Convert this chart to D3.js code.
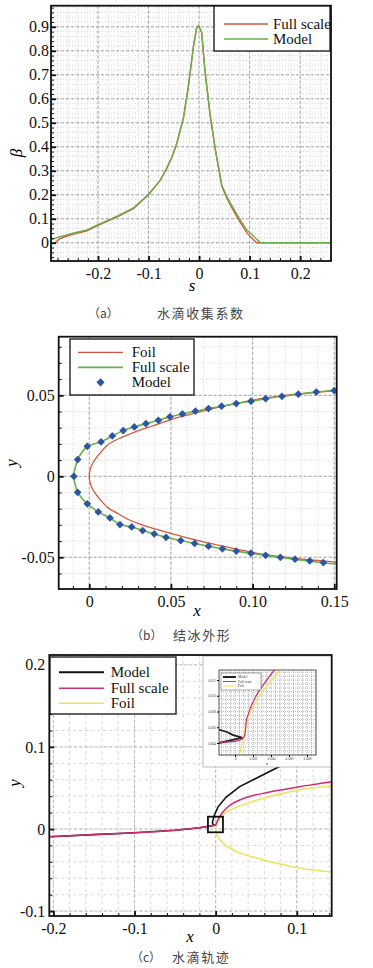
<!DOCTYPE html>
<html>
<head>
<meta charset="utf-8">
<script src="https://cdn.jsdelivr.net/npm/d3@7"></script>
<style>
    body { margin: 0; background: #fff; }
</style>
</head>
<body>
<div id="chart"></div>
<script>
// ---- (a) droplet collection efficiency ----
const sFull = [-0.285, -0.276, -0.265, -0.25, -0.222, -0.2, -0.16, -0.13, -0.1, -0.077, -0.064, -0.054, -0.044, -0.031, -0.021, -0.011, -0.005, -0.001, 0.005, 0.012, 0.022, 0.032, 0.045, 0.055, 0.065, 0.08, 0.095, 0.105, 0.114, 0.261];
const betaFull = [0, 0.016, 0.026, 0.035, 0.05, 0.072, 0.11, 0.142, 0.2, 0.26, 0.31, 0.355, 0.415, 0.52, 0.655, 0.82, 0.895, 0.905, 0.878, 0.71, 0.53, 0.39, 0.235, 0.186, 0.145, 0.09, 0.04, 0.018, 0, 0];
const sModel = [-0.293, -0.276, -0.265, -0.25, -0.222, -0.2, -0.16, -0.13, -0.1, -0.077, -0.064, -0.054, -0.044, -0.031, -0.021, -0.011, -0.005, -0.001, 0.005, 0.012, 0.022, 0.032, 0.045, 0.055, 0.065, 0.08, 0.095, 0.105, 0.115, 0.122, 0.261];
const betaModel = [0.012, 0.025, 0.031, 0.04, 0.054, 0.076, 0.113, 0.145, 0.202, 0.26, 0.31, 0.355, 0.415, 0.52, 0.655, 0.82, 0.895, 0.905, 0.878, 0.71, 0.53, 0.39, 0.24, 0.192, 0.155, 0.1, 0.052, 0.033, 0.013, 0, 0];
const aTicksX = [-0.2, -0.1, 0, 0.1, 0.2];
const aLabelsX = ["-0.2", "-0.1", "0", "0.1", "0.2"];
const aTicksY = [0, 0.1, 0.2, 0.3, 0.4, 0.5, 0.6, 0.7, 0.8, 0.9];
const aLabelsY = ["0", "0.1", "0.2", "0.3", "0.4", "0.5", "0.6", "0.7", "0.8", "0.9"];

// ---- (b) ice shape ----
const foilX = [0, 0.0005, 0.0015, 0.0035, 0.007, 0.0116, 0.018, 0.0239, 0.031, 0.0382, 0.05, 0.06, 0.07, 0.08, 0.09, 0.10, 0.11, 0.12, 0.13, 0.14, 0.15, 0.16];
const foilUpper = [0, 0.004, 0.0068, 0.0103, 0.0148, 0.0196, 0.0232, 0.0257, 0.0285, 0.0309, 0.035, 0.0378, 0.0404, 0.0428, 0.045, 0.047, 0.0487, 0.05, 0.0511, 0.052, 0.0528, 0.0536];
const foilLower = [0, -0.004, -0.0068, -0.0103, -0.0148, -0.0195, -0.0233, -0.0267, -0.0295, -0.0319, -0.0352, -0.038, -0.0405, -0.0428, -0.045, -0.047, -0.0487, -0.05, -0.0511, -0.052, -0.0528, -0.0536];
const iceX = [0.152, 0.144, 0.135, 0.126, 0.117, 0.108, 0.099, 0.09, 0.0815, 0.073, 0.0645, 0.056, 0.047, 0.0398, 0.0327, 0.026, 0.0188, 0.0127, 0.0055, -0.0012, -0.0045, -0.0071, -0.0085, -0.0095, -0.0085, -0.0071, -0.0045, -0.0012, 0.0072, 0.0141, 0.0208, 0.0276, 0.0347, 0.0423, 0.0494, 0.057, 0.065, 0.073, 0.081, 0.09, 0.099, 0.108, 0.118, 0.128, 0.139, 0.152];
const iceY = [-0.0542, -0.0535, -0.0524, -0.0513, -0.0501, -0.0489, -0.0476, -0.0462, -0.0448, -0.0432, -0.0415, -0.0397, -0.0377, -0.0356, -0.0335, -0.0313, -0.0298, -0.0257, -0.022, -0.017, -0.0135, -0.0099, -0.0055, 0, 0.0055, 0.0103, 0.0148, 0.0185, 0.0212, 0.0249, 0.0282, 0.0305, 0.0325, 0.0346, 0.0367, 0.0385, 0.0402, 0.0418, 0.0433, 0.0449, 0.0464, 0.0479, 0.0494, 0.0507, 0.052, 0.0532];
const modelX = [0.1433, 0.135, 0.126, 0.117, 0.108, 0.099, 0.09, 0.0815, 0.073, 0.0645, 0.056, 0.047, 0.0398, 0.0327, 0.026, 0.0188, 0.0127, 0.0055, -0.0012, -0.0071, -0.0094, -0.0071, -0.0012, 0.0072, 0.0141, 0.0208, 0.0276, 0.0347, 0.0423, 0.0494, 0.057, 0.065, 0.073, 0.081, 0.09, 0.099, 0.108, 0.118, 0.128, 0.139, 0.150];
const modelY = [-0.0533, -0.0522, -0.0512, -0.05, -0.0488, -0.0475, -0.0462, -0.0448, -0.0432, -0.0415, -0.0397, -0.0377, -0.0356, -0.0335, -0.0313, -0.0298, -0.0257, -0.022, -0.017, -0.0099, 0, 0.0103, 0.0185, 0.0212, 0.0249, 0.0282, 0.0305, 0.0325, 0.0346, 0.0367, 0.0385, 0.0402, 0.0418, 0.0433, 0.0449, 0.0464, 0.0479, 0.0494, 0.0507, 0.052, 0.0529];
const bTicksX = [0, 0.05, 0.10, 0.15];
const bLabelsX = ["0", "0.05", "0.10", "0.15"];
const bTicksY = [-0.05, 0, 0.05];
const bLabelsY = ["-0.05", "0", "0.05"];

// ---- (c) droplet trajectories ----
const trajModelX = [-0.205, -0.15, -0.1, -0.05, -0.02, -0.006, -0.0015, -0.0035, -0.004, -0.0033, -0.0015, 0.003, 0.013, 0.0296, 0.05, 0.0768, 0.1];
const trajModelY = [-0.0094, -0.0068, -0.0046, -0.0015, 0.0015, 0.0038, 0.0046, 0.0062, 0.008, 0.0105, 0.017, 0.027, 0.039, 0.0516, 0.0618, 0.0752, 0.086];
const trajFullX = [-0.205, -0.15, -0.1, -0.05, -0.02, -0.005, 0, 0.002, 0.004, 0.008, 0.013, 0.02, 0.0296, 0.045, 0.0625, 0.08, 0.1036, 0.125, 0.143];
const trajFullY = [-0.0094, -0.0068, -0.0046, -0.0015, 0.0015, 0.004, 0.005, 0.0095, 0.0135, 0.0195, 0.025, 0.0305, 0.0354, 0.0405, 0.0443, 0.0475, 0.0516, 0.0548, 0.0577];
const zoomBox = [-0.0095, 0.009, -0.004, 0.015];   // x0, x1, y0, y1
const cTicksX = [-0.2, -0.1, 0, 0.1];
const cLabelsX = ["-0.2", "-0.1", "0", "0.1"];
const cTicksY = [-0.1, 0, 0.1, 0.2];
const cLabelsY = ["-0.1", "0", "0.1", "0.2"];

// inset (zoom near leading edge)
const insetModelX = [-0.0018, 0.0008, -0.0002, -0.0009, -0.0018];
const insetModelY = [0.0040, 0.0047, 0.0050, 0.0054, 0.0057];
const insetFullX = [-0.0018, 0.0009, 0.0013, 0.0024, 0.0044];
const insetFullY = [0.0041, 0.0046, 0.0071, 0.0101, 0.0133];
const insetFoilX = [0.0005, 0.0015, 0.0028, 0.0051];
const insetFoilY = [0.0025, 0.0073, 0.0101, 0.0133];
const insetTicksX = [0, 0.002, 0.004, 0.006, 0.008];
const insetLabelsX = ["0", "0.002", "0.004", "0.006", "0.008"];
const insetTicksY = [0.004, 0.006, 0.008, 0.010, 0.012];
const insetLabelsY = ["0.004", "0.006", "0.008", "0.010", "0.012"];

const RED = "#d4573b", GREEN = "#67b04a", BLUE = "#2c56a3";
const PINK = "#d42a72", YELLOW = "#ece35f";
const SERIF = "'Liberation Serif', 'Times New Roman', serif";
const CJK = "'Noto Sans CJK SC', sans-serif";

const svg = d3.select("#chart").append("svg")
    .attr("width", 373).attr("height", 968)
    .style("background", "#fff");

function zip(xs, ys) { return xs.map((v, i) => [v, ys[i]]); }
function steps(a, b, st) {
    const n = Math.round((b - a) / st);
    return d3.range(n + 1).map(i => +(a + i * st).toFixed(6));
}
function serif(sel, size) {
    return sel.style("font-family", SERIF).style("font-size", size + "px");
}

// builds frame, grid and axes for a panel
function panel(id, o) {
    const g = svg.append("g");
    const x = d3.scaleLinear().domain(o.xDomain).range(o.xRange);
    const y = d3.scaleLinear().domain(o.yDomain).range(o.yRange);
    const L = o.xRange[0], R = o.xRange[1], B = o.yRange[0], T = o.yRange[1];

    g.append("clipPath").attr("id", id).append("rect")
        .attr("x", L).attr("y", T).attr("width", R - L).attr("height", B - T);

    const inX = v => v > o.xDomain[0] + 1e-9 && v < o.xDomain[1] - 1e-9;
    const inY = v => v > o.yDomain[0] + 1e-9 && v < o.yDomain[1] - 1e-9;
    const minorX = steps(o.minorX[0], o.minorX[1], o.minorX[2]).filter(inX);
    const minorY = steps(o.minorY[0], o.minorY[1], o.minorY[2]).filter(inY);

    // grid
    const grid = g.append("g");
    grid.selectAll(".gx").data(minorX).enter().append("line")
        .attr("x1", d => x(d)).attr("x2", d => x(d)).attr("y1", T).attr("y2", B)
        .attr("stroke", o.gridColor).attr("stroke-width", 0.8).attr("stroke-dasharray", o.minorDash);
    grid.selectAll(".gy").data(minorY).enter().append("line")
        .attr("x1", L).attr("x2", R).attr("y1", d => y(d)).attr("y2", d => y(d))
        .attr("stroke", o.gridColor).attr("stroke-width", 0.8).attr("stroke-dasharray", o.minorDash);
    grid.selectAll(".mx").data(o.ticksX.filter(inX)).enter().append("line")
        .attr("x1", d => x(d)).attr("x2", d => x(d)).attr("y1", T).attr("y2", B)
        .attr("stroke", o.majorColor).attr("stroke-width", 0.9).attr("stroke-dasharray", "3,2");
    grid.selectAll(".my").data(o.ticksY.filter(inY)).enter().append("line")
        .attr("x1", L).attr("x2", R).attr("y1", d => y(d)).attr("y2", d => y(d))
        .attr("stroke", o.majorColor).attr("stroke-width", 0.9).attr("stroke-dasharray", "3,2");

    const plot = g.append("g").attr("clip-path", `url(#${id})`);

    function axes() {
        g.append("rect").attr("x", L).attr("y", T).attr("width", R - L).attr("height", B - T)
            .attr("fill", "none").attr("stroke", "#111").attr("stroke-width", 1.8);

        const ax = g.append("g").attr("transform", `translate(0,${B})`)
            .call(d3.axisBottom(x).tickValues(minorX).tickSize(-3).tickFormat(""));
        const ay = g.append("g").attr("transform", `translate(${L},0)`)
            .call(d3.axisLeft(y).tickValues(minorY).tickSize(-3).tickFormat(""));
        const bx = g.append("g").attr("transform", `translate(0,${B})`)
            .call(d3.axisBottom(x).tickValues(o.ticksX).tickSize(-5).tickPadding(o.padX)
                .tickFormat((d, i) => o.labelsX[i]));
        const by = g.append("g").attr("transform", `translate(${L},0)`)
            .call(d3.axisLeft(y).tickValues(o.ticksY).tickSize(-5).tickPadding(o.padY)
                .tickFormat((d, i) => o.labelsY[i]));
        [ax, ay, bx, by].forEach(a => {
            a.select(".domain").remove();
            a.selectAll("line").attr("stroke", "#111");
        });
        [ax, ay].forEach(a => a.selectAll("line").attr("stroke-width", 1));
        [bx, by].forEach(a => a.selectAll("line").attr("stroke-width", 1.8));
        [bx, by].forEach(a => serif(a.selectAll("text"), o.tickFont).attr("fill", "#111"));

        serif(g.append("text"), 17).attr("x", o.xTitle[0]).attr("y", o.xTitle[1])
            .attr("text-anchor", "middle").style("font-style", "italic").text(o.xName);
        serif(g.append("text"), 17)
            .attr("transform", `translate(${o.yTitle[0]},${o.yTitle[1]}) rotate(-90)`)
            .attr("text-anchor", "middle").style("font-style", "italic").text(o.yName);
    }
    return { g, x, y, plot, axes };
}

function legend(g, box, items) {
    g.append("rect").attr("x", box[0]).attr("y", box[1]).attr("width", box[2] - box[0]).attr("height", box[3] - box[1])
        .attr("fill", "#fff").attr("stroke", "#111").attr("stroke-width", 1.3);
    items.forEach(it => {
        if (it.diamond) {
            g.append("path").attr("d", d3.symbol(d3.symbolSquare, 34)())
                .attr("transform", `translate(${(it.x0 + it.x1) / 2},${it.y}) rotate(45)`).attr("fill", BLUE);
        } else {
            g.append("line").attr("x1", it.x0).attr("x2", it.x1).attr("y1", it.y).attr("y2", it.y)
                .attr("stroke", it.color).attr("stroke-width", it.w);
        }
        serif(g.append("text"), 15).attr("x", it.tx).attr("y", it.y + 5)
            .attr("fill", "#111").text(it.label);
    });
}

function caption(tag, text, x1, x2, yb) {
    svg.append("text").attr("x", x1).attr("y", yb).attr("fill", "#444")
        .style("font-family", CJK).style("font-size", "12px").text(tag);
    svg.append("text").attr("x", x2).attr("y", yb).attr("fill", "#444")
        .style("font-family", CJK).style("font-size", "13px").style("letter-spacing", "1.6px").text(text);
}

// ================= (a) =================
{
    const p = panel("clipA", {
        xDomain: [-0.293, 0.261], xRange: [51, 331],
        yDomain: [-0.076, 0.988], yRange: [261, 5.7],
        ticksX: aTicksX, labelsX: aLabelsX, ticksY: aTicksY, labelsY: aLabelsY,
        minorX: [-0.28, 0.26, 0.02], minorY: [-0.06, 0.98, 0.02],
        gridColor: "#c6c6c6", majorColor: "#9c9c9c", minorDash: "1,2",
        padX: 7, padY: 2, tickFont: 16,
        xTitle: [192, 291], yTitle: [22, 153], xName: "s", yName: "β"
    });
    const line = d3.line().x(d => p.x(d[0])).y(d => p.y(d[1]));
    p.plot.append("path").datum(zip(sFull, betaFull)).attr("d", line)
        .attr("fill", "none").attr("stroke", RED).attr("stroke-width", 1.4);
    p.plot.append("path").datum(zip(sModel, betaModel)).attr("d", line)
        .attr("fill", "none").attr("stroke", GREEN).attr("stroke-width", 1.4);
    p.axes();
    legend(p.g, [214, 6, 330, 51], [
        { label: "Full scale", color: RED, w: 1.4, x0: 224, x1: 268, y: 24, tx: 273 },
        { label: "Model", color: GREEN, w: 1.4, x0: 224, x1: 268, y: 39, tx: 273 }
    ]);
    caption("（a）", "水滴收集系数", 88, 157, 318);
}

// ================= (b) =================
{
    const p = panel("clipB", {
        xDomain: [-0.0187, 0.1515], xRange: [58.7, 336.7],
        yDomain: [-0.0696, 0.0862], yRange: [589, 336.7],
        ticksX: bTicksX, labelsX: bLabelsX, ticksY: bTicksY, labelsY: bLabelsY,
        minorX: [-0.01, 0.15, 0.01], minorY: [-0.06, 0.08, 0.01],
        gridColor: "#c6c6c6", majorColor: "#9c9c9c", minorDash: "1,2",
        padX: 7, padY: 4, tickFont: 16,
        xTitle: [197, 616], yTitle: [17, 463], xName: "x", yName: "y"
    });
    const line = d3.line().x(d => p.x(d[0])).y(d => p.y(d[1])).curve(d3.curveCatmullRom);
    const foil = zip(foilX, foilUpper).reverse().concat(zip(foilX, foilLower).slice(1));
    p.plot.append("path").datum(foil).attr("d", line)
        .attr("fill", "none").attr("stroke", RED).attr("stroke-width", 1.3);
    p.plot.append("path").datum(zip(iceX, iceY)).attr("d", line)
        .attr("fill", "none").attr("stroke", GREEN).attr("stroke-width", 1.6);
    p.plot.selectAll(".dm").data(zip(modelX, modelY)).enter().append("path")
        .attr("d", d3.symbol(d3.symbolSquare, 30)())
        .attr("transform", d => `translate(${p.x(d[0])},${p.y(d[1])}) rotate(45)`)
        .attr("fill", BLUE);
    p.axes();
    legend(p.g, [70, 339, 194, 395], [
        { label: "Foil", color: RED, w: 1.3, x0: 78, x1: 123, y: 352.3, tx: 131.7 },
        { label: "Full scale", color: GREEN, w: 1.8, x0: 78, x1: 123, y: 367.3, tx: 131.7 },
        { label: "Model", diamond: true, x0: 78, x1: 123, y: 382.3, tx: 131.7 }
    ]);
    caption("（b）", "结冰外形", 131, 173, 640);
}

// ================= (c) =================
{
    const p = panel("clipC", {
        xDomain: [-0.205, 0.143], xRange: [49.3, 331.7],
        yDomain: [-0.106, 0.212], yRange: [916, 655],
        ticksX: cTicksX, labelsX: cLabelsX, ticksY: cTicksY, labelsY: cLabelsY,
        minorX: [-0.2, 0.14, 0.02], minorY: [-0.1, 0.2, 0.02],
        gridColor: "#cfcfcf", majorColor: "#b5b5b5", minorDash: "3,3",
        padX: 7, padY: 4, tickFont: 16,
        xTitle: [190, 942], yTitle: [20, 783], xName: "x", yName: "y"
    });
    const line = d3.line().x(d => p.x(d[0])).y(d => p.y(d[1]));
    const smooth = d3.line().x(d => p.x(d[0])).y(d => p.y(d[1])).curve(d3.curveCatmullRom);
    const foil = zip(foilX, foilUpper).reverse().concat(zip(foilX, foilLower).slice(1));
    p.plot.append("path").datum(foil).attr("d", smooth)
        .attr("fill", "none").attr("stroke", YELLOW).attr("stroke-width", 1.6);
    p.plot.append("path").datum(zip(trajModelX, trajModelY)).attr("d", line)
        .attr("fill", "none").attr("stroke", "#111").attr("stroke-width", 1.6);
    p.plot.append("path").datum(zip(trajFullX, trajFullY)).attr("d", smooth)
        .attr("fill", "none").attr("stroke", PINK).attr("stroke-width", 1.5);
    p.plot.append("rect")
        .attr("x", p.x(zoomBox[0])).attr("y", p.y(zoomBox[3]))
        .attr("width", p.x(zoomBox[1]) - p.x(zoomBox[0])).attr("height", p.y(zoomBox[2]) - p.y(zoomBox[3]))
        .attr("fill", "none").attr("stroke", "#111").attr("stroke-width", 1.8);

    // inset
    const ins = p.plot.append("g");
    ins.append("rect").attr("x", 203).attr("y", 656).attr("width", 130).attr("height", 111)
        .attr("fill", "#fff").attr("stroke", "#aaa").attr("stroke-width", 0.8);
    const ix = d3.scaleLinear().domain([-0.00178, 0.009]).range([219, 316]);
    const iy = d3.scaleLinear().domain([0.00248, 0.01327]).range([755, 670]);
    const ig = ins.append("g");
    ig.selectAll(".ix").data(steps(-0.0015, 0.009, 0.0005)).enter().append("line")
        .attr("x1", d => ix(d)).attr("x2", d => ix(d)).attr("y1", 670).attr("y2", 755)
        .attr("stroke", "#777").attr("stroke-width", 0.5).attr("stroke-dasharray", "1,1");
    ig.selectAll(".iy").data(steps(0.0025, 0.013, 0.0005)).enter().append("line")
        .attr("x1", 219).attr("x2", 316).attr("y1", d => iy(d)).attr("y2", d => iy(d))
        .attr("stroke", "#777").attr("stroke-width", 0.5).attr("stroke-dasharray", "1,1");
    const il = d3.line().x(d => ix(d[0])).y(d => iy(d[1]));
    ins.append("clipPath").attr("id", "clipI").append("rect")
        .attr("x", 219).attr("y", 670).attr("width", 97).attr("height", 85);
    const ip = ins.append("g").attr("clip-path", "url(#clipI)");
    ip.append("path").datum(zip(insetFoilX, insetFoilY)).attr("d", il.curve(d3.curveCatmullRom))
        .attr("fill", "none").attr("stroke", YELLOW).attr("stroke-width", 1.3);
    ip.append("path").datum(zip(insetModelX, insetModelY)).attr("d", il.curve(d3.curveLinear))
        .attr("fill", "none").attr("stroke", "#222").attr("stroke-width", 1.8);
    ip.append("path").datum(zip(insetFullX, insetFullY)).attr("d", il.curve(d3.curveCatmullRom))
        .attr("fill", "none").attr("stroke", PINK).attr("stroke-width", 1.2);
    ins.append("rect").attr("x", 219).attr("y", 670).attr("width", 97).attr("height", 85)
        .attr("fill", "none").attr("stroke", "#333").attr("stroke-width", 0.8);
    ins.append("g").attr("transform", "translate(0,755)")
        .call(d3.axisBottom(ix).tickValues(insetTicksX).tickSize(2).tickPadding(1).tickFormat((d, i) => insetLabelsX[i]))
        .call(a => a.select(".domain").remove())
        .call(a => serif(a.selectAll("text"), 3.5).attr("fill", "#444"));
    ins.append("g").attr("transform", "translate(219,0)")
        .call(d3.axisLeft(iy).tickValues(insetTicksY).tickSize(2).tickPadding(1).tickFormat((d, i) => insetLabelsY[i]))
        .call(a => a.select(".domain").remove())
        .call(a => serif(a.selectAll("text"), 3.5).attr("fill", "#444"));
    serif(ins.append("text"), 4).attr("x", 267).attr("y", 765).attr("text-anchor", "middle")
        .style("font-style", "italic").text("x");
    const leg = [["Model", "#222", 1.8], ["Full scale", PINK, 1.1], ["Foil", YELLOW, 1.1]];
    ins.append("rect").attr("x", 221).attr("y", 673).attr("width", 40).attr("height", 17)
        .attr("fill", "#fff").attr("stroke", "#555").attr("stroke-width", 0.5);
    leg.forEach((d, i) => {
        ins.append("line").attr("x1", 223).attr("x2", 236).attr("y1", 677 + i * 4.5).attr("y2", 677 + i * 4.5)
            .attr("stroke", d[1]).attr("stroke-width", d[2]);
        serif(ins.append("text"), 3.6).attr("x", 238).attr("y", 678.3 + i * 4.5)
            .attr("fill", "#333").text(d[0]);
    });

    p.axes();
    legend(p.g, [50, 657, 176, 714], [
        { label: "Model", color: "#111", w: 2, x0: 59, x1: 104, y: 672.3, tx: 110.7 },
        { label: "Full scale", color: PINK, w: 1.5, x0: 59, x1: 104, y: 688.3, tx: 110.7 },
        { label: "Foil", color: YELLOW, w: 1.5, x0: 59, x1: 104, y: 703.3, tx: 110.7 }
    ]);
    caption("（c）", "水滴轨迹", 131, 172, 962);
}
</script>
</body>
</html>
